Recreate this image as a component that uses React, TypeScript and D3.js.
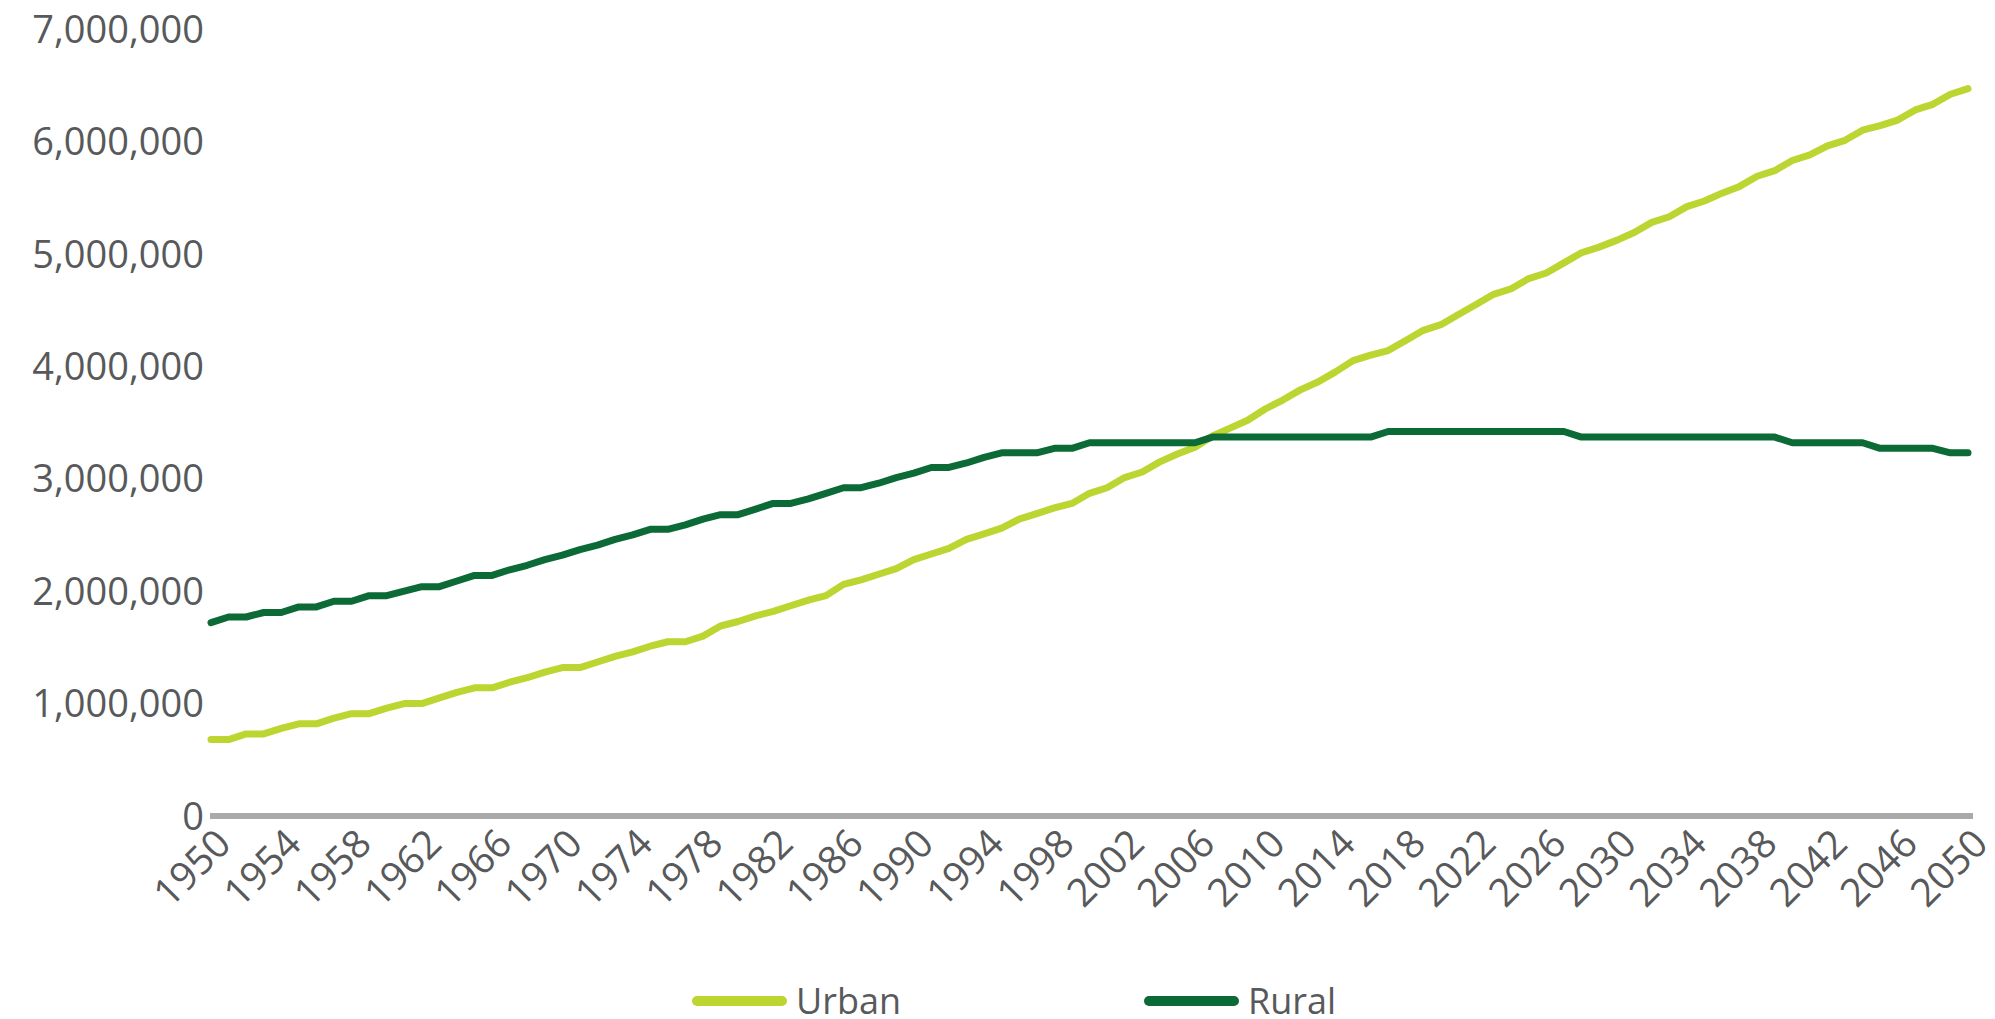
import React from "react";
import * as d3 from "d3";

// years 1950..2050, values in millions
const years = d3.range(1950, 2051);

const urban = [
  0.68, 0.68, 0.73, 0.73, 0.78, 0.82, 0.82, 0.87, 0.91, 0.91,
  0.96, 1.0, 1.0, 1.05, 1.1, 1.14, 1.14, 1.19, 1.23, 1.28,
  1.32, 1.32, 1.37, 1.42, 1.46, 1.51, 1.55, 1.55, 1.6, 1.69,
  1.73, 1.78, 1.82, 1.87, 1.92, 1.96, 2.06, 2.1, 2.15, 2.2,
  2.28, 2.33, 2.38, 2.46, 2.51, 2.56, 2.64, 2.69, 2.74, 2.78,
  2.87, 2.92, 3.01, 3.06, 3.15, 3.22, 3.28, 3.38, 3.45, 3.52,
  3.62, 3.7, 3.79, 3.86, 3.95, 4.05, 4.1, 4.14, 4.23, 4.32,
  4.37, 4.46, 4.55, 4.64, 4.69, 4.78, 4.83, 4.92, 5.01, 5.06,
  5.12, 5.19, 5.28, 5.33, 5.42, 5.47, 5.54, 5.6, 5.69, 5.74,
  5.83, 5.88, 5.96, 6.01, 6.1, 6.14, 6.19, 6.28, 6.33, 6.42,
  6.47,
];

const rural = [
  1.72, 1.77, 1.77, 1.81, 1.81, 1.86, 1.86, 1.91, 1.91, 1.96,
  1.96, 2.0, 2.04, 2.04, 2.09, 2.14, 2.14, 2.19, 2.23, 2.28,
  2.32, 2.37, 2.41, 2.46, 2.5, 2.55, 2.55, 2.59, 2.64, 2.68,
  2.68, 2.73, 2.78, 2.78, 2.82, 2.87, 2.92, 2.92, 2.96, 3.01,
  3.05, 3.1, 3.1, 3.14, 3.19, 3.23, 3.23, 3.23, 3.27, 3.27,
  3.32, 3.32, 3.32, 3.32, 3.32, 3.32, 3.32, 3.37, 3.37, 3.37,
  3.37, 3.37, 3.37, 3.37, 3.37, 3.37, 3.37, 3.42, 3.42, 3.42,
  3.42, 3.42, 3.42, 3.42, 3.42, 3.42, 3.42, 3.42, 3.37, 3.37,
  3.37, 3.37, 3.37, 3.37, 3.37, 3.37, 3.37, 3.37, 3.37, 3.37,
  3.32, 3.32, 3.32, 3.32, 3.32, 3.27, 3.27, 3.27, 3.27, 3.23,
  3.23,
];

const yTicks = [0, 1, 2, 3, 4, 5, 6, 7];
const xTicks = d3.range(1950, 2051, 4);

const series = [
  { name: "Urban", values: urban, color: "#bcd531" },
  { name: "Rural", values: rural, color: "#0b6a36" },
];

const W = 1995;
const H = 1019;
const FONT = "'Open Sans', sans-serif";
const TEXT = "#58595b";

export default function App() {
  const x = d3.scaleLinear().domain([1950, 2050]).range([211, 1968]);
  const y = d3.scaleLinear().domain([0, 7]).range([816, 29]);

  const line = d3
    .line<number>()
    .x((_, i) => x(years[i]))
    .y((d) => y(d));

  const fmt = d3.format(",");

  return (
    <svg
      width={W}
      height={H}
      style={{ position: "absolute", left: 0, top: 0, background: "#fff" }}
      fontFamily={FONT}
    >
      {/* y labels */}
      {yTicks.map((t) => (
        <text
          key={t}
          x={204}
          y={y(t)}
          dy="0.36em"
          textAnchor="end"
          fontSize={38}
          fill={TEXT}
        >
          {fmt(t * 1000000)}
        </text>
      ))}

      {/* baseline */}
      <line x1={210} x2={1973} y1={y(0)} y2={y(0)} stroke="#aaaaaa" strokeWidth={6} />

      {/* x labels */}
      {xTicks.map((t) => (
        <text
          key={t}
          transform={`translate(${x(t) + 22},${846}) rotate(-45)`}
          textAnchor="end"
          fontSize={39}
          fill={TEXT}
        >
          {t}
        </text>
      ))}

      {series.map((s) => (
        <path
          key={s.name}
          d={line(s.values) || ""}
          fill="none"
          stroke={s.color}
          strokeWidth={7}
          strokeLinejoin="round"
          strokeLinecap="round"
        />
      ))}

      {/* legend */}
      {series.map((s, i) => {
        const lx = i === 0 ? 697 : 1149;
        return (
          <g key={s.name}>
            <line
              x1={lx}
              x2={lx + 85}
              y1={1001}
              y2={1001}
              stroke={s.color}
              strokeWidth={10}
              strokeLinecap="round"
            />
            <text x={lx + 99} y={1001} dy="0.35em" fontSize={36} fill={TEXT}>
              {s.name}
            </text>
          </g>
        );
      })}
    </svg>
  );
}
